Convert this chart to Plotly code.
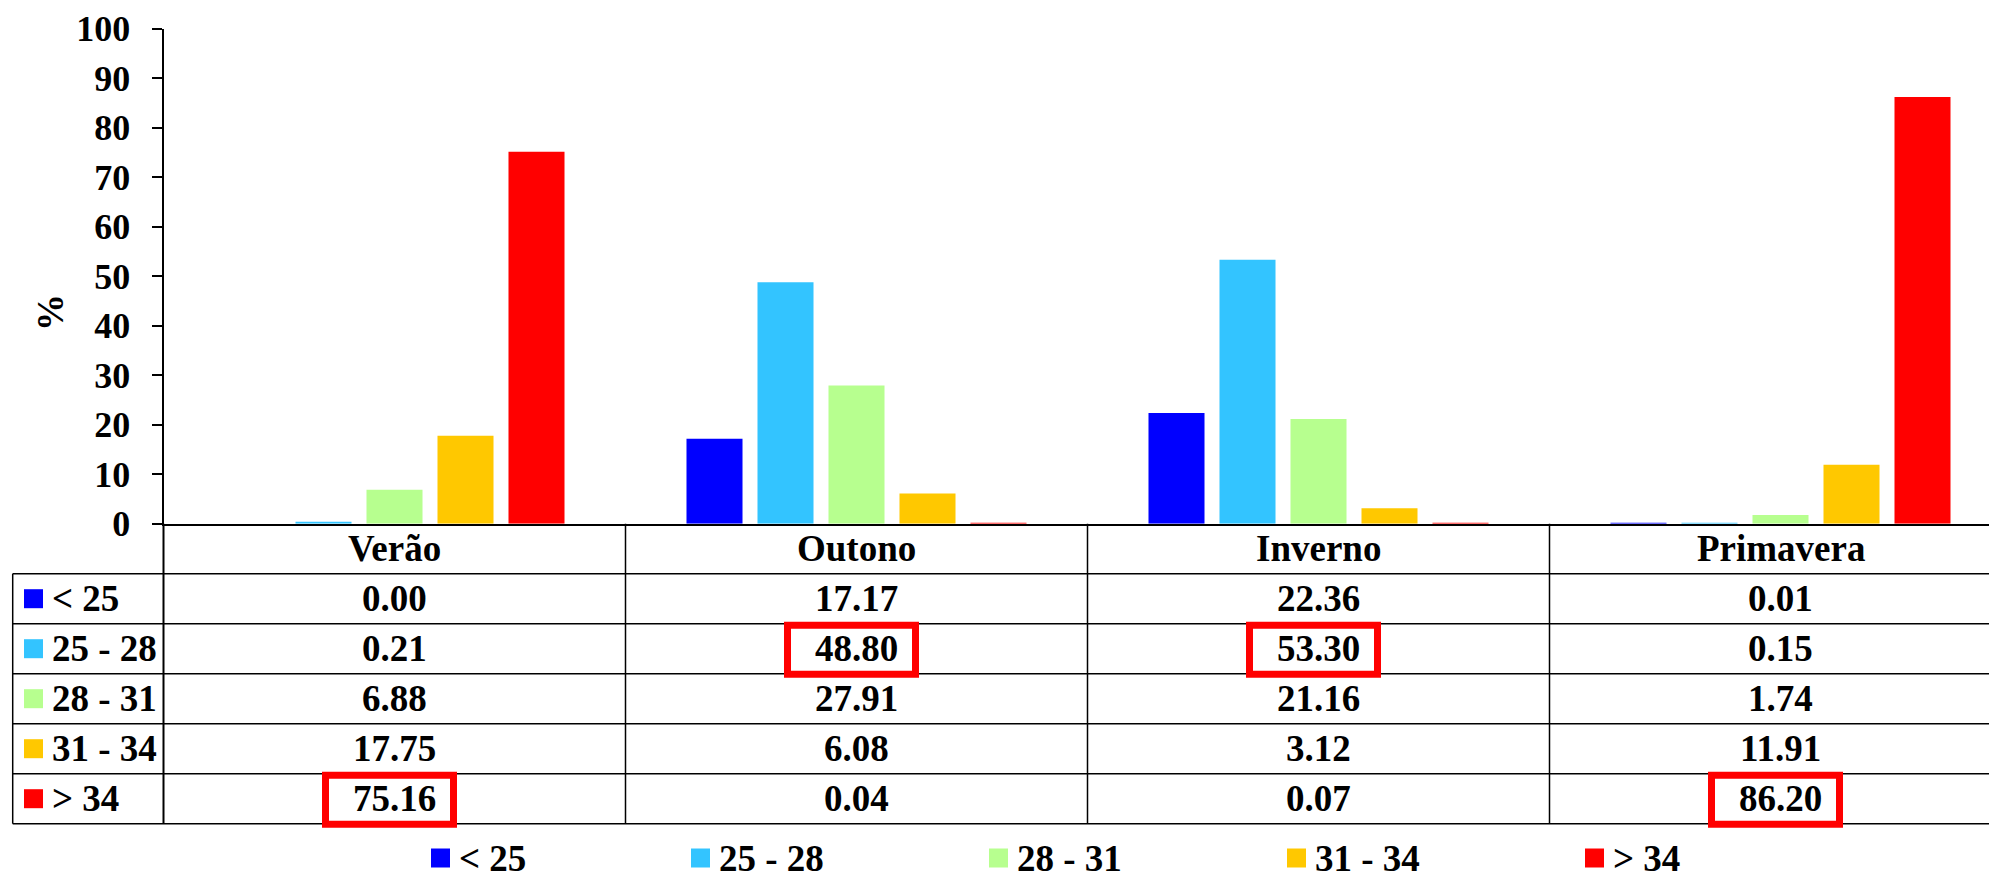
import plotly.graph_objects as go

# Seasonal share (%) of each temperature class
categories = ["Verão", "Outono", "Inverno", "Primavera"]
classes = ["< 25", "25 - 28", "28 - 31", "31 - 34", "> 34"]
lt_25 = [0.00, 17.17, 22.36, 0.01]
c25_28 = [0.21, 48.80, 53.30, 0.15]
c28_31 = [6.88, 27.91, 21.16, 1.74]
c31_34 = [17.75, 6.08, 3.12, 11.91]
gt_34 = [75.16, 0.04, 0.07, 86.20]
series = [lt_25, c25_28, c28_31, c31_34, gt_34]
y_ticks = [0, 10, 20, 30, 40, 50, 60, 70, 80, 90, 100]
colors = ["#0000FF", "#33C4FF", "#B7FF8F", "#FFC800", "#FF0000"]

W, H = 1989, 883
FONT = "Liberation Serif"
FS = 37

# page geometry (px)
plot_left, plot_top, plot_bottom = 163.5, 28.7, 523.7
cat_w = 462.0
row_h = 50.0
table_left = 12.7
table_bottom = plot_bottom + row_h * (len(classes) + 1)


def fx(x):
    return x / W


def fy(y):
    return 1 - y / H


fig = go.Figure()
for name, vals, col in zip(classes, series, colors):
    fig.add_trace(go.Bar(x=categories, y=vals, name=name, marker_color=col,
                         marker_line_width=0, showlegend=False))

x_max = (W - plot_left) / cat_w - 0.5

shapes = []
annotations = []
line = dict(color="black", width=1.5)

# table grid
for r in range(1, len(classes) + 2):
    y = plot_bottom + r * row_h
    shapes.append(dict(type="line", xref="paper", yref="paper",
                       x0=fx(table_left), x1=1, y0=fy(y), y1=fy(y), line=line))
shapes.append(dict(type="line", xref="paper", yref="paper",
                   x0=fx(table_left), x1=fx(table_left),
                   y0=fy(plot_bottom + row_h), y1=fy(table_bottom), line=line))
shapes.append(dict(type="line", xref="paper", yref="paper",
                   x0=fx(plot_left), x1=fx(plot_left),
                   y0=fy(plot_bottom), y1=fy(table_bottom), line=dict(color="black", width=2)))
for k in range(1, len(categories)):
    shapes.append(dict(type="line", xref="x", yref="paper",
                       x0=k - 0.5, x1=k - 0.5,
                       y0=fy(plot_bottom), y1=fy(table_bottom), line=line))

font = dict(family=FONT, size=FS, color="black", weight="bold")

# header row
for i, cat in enumerate(categories):
    annotations.append(dict(x=i, y=fy(plot_bottom + row_h / 2), xref="x", yref="paper",
                            text=cat, showarrow=False, font=font,
                            xanchor="center", yanchor="middle"))

# value rows with colour keys
for r, (name, vals, col) in enumerate(zip(classes, series, colors)):
    yc = plot_bottom + row_h * (r + 1.5)
    shapes.append(dict(type="rect", xref="paper", yref="paper",
                       x0=fx(24), x1=fx(43), y0=fy(yc - 9.5), y1=fy(yc + 9.5),
                       fillcolor=col, line_width=0))
    annotations.append(dict(x=fx(50), y=fy(yc), xref="paper", yref="paper",
                            text=name, showarrow=False, font=font,
                            xanchor="left", yanchor="middle"))
    for i, v in enumerate(vals):
        annotations.append(dict(x=i, y=fy(yc), xref="x", yref="paper",
                                text=f"{v:.2f}", showarrow=False, font=font,
                                xanchor="center", yanchor="middle"))

# red frame around the dominant class of each season
box_lw = 7
half_w = 67.5 / cat_w
shift = -5 / cat_w
for i in range(len(categories)):
    col_vals = [s[i] for s in series]
    r = col_vals.index(max(col_vals))
    top = plot_bottom + row_h * (r + 1) - 2
    bot = top + row_h + 6
    inset_x = box_lw / 2 / cat_w
    shapes.append(dict(type="rect", xref="x", yref="paper",
                       x0=i + shift - half_w + inset_x, x1=i + shift + half_w - inset_x,
                       y0=fy(top + box_lw / 2), y1=fy(bot - box_lw / 2),
                       line=dict(color="#FF0000", width=box_lw), fillcolor="rgba(0,0,0,0)"))

# legend below the table
legend_x = [431, 691, 989, 1287, 1585]
legend_y = 858
for name, col, lx in zip(classes, colors, legend_x):
    shapes.append(dict(type="rect", xref="paper", yref="paper",
                       x0=fx(lx), x1=fx(lx + 19), y0=fy(legend_y - 9.5), y1=fy(legend_y + 9.5),
                       fillcolor=col, line_width=0))
    annotations.append(dict(x=fx(lx + 27), y=fy(legend_y), xref="paper", yref="paper",
                            text=name, showarrow=False, font=font, borderpad=0,
                            xanchor="left", yanchor="middle"))

# y-axis title
annotations.append(dict(x=fx(50), y=fy(313), xref="paper", yref="paper",
                        text="%", textangle=-90, showarrow=False, font=font,
                        xanchor="center", yanchor="middle"))

fig.update_layout(
    template="none",
    width=W, height=H,
    margin=dict(l=0, r=0, t=0, b=0, autoexpand=False),
    paper_bgcolor="white", plot_bgcolor="white",
    font=dict(family=FONT),
    barmode="group", bargap=0.2316, bargroupgap=0.211,
    xaxis=dict(domain=[fx(plot_left), 1], range=[-0.5, x_max], automargin=False,
               categoryorder="array", categoryarray=categories,
               showticklabels=False, ticks="", showgrid=False, zeroline=False,
               showline=True, linecolor="black", linewidth=2),
    yaxis=dict(domain=[fy(plot_bottom), fy(plot_top)], range=[0, 100], automargin=False,
               tickvals=y_ticks, ticks="outside", ticklen=10, tickwidth=2,
               tickcolor="black", showline=True, linecolor="black", linewidth=2,
               showgrid=False, zeroline=False,
               tickfont=dict(family=FONT, size=36, color="black", weight="bold"),
               ticklabelstandoff=14),
    shapes=shapes,
    annotations=annotations,
    showlegend=False,
)

fig.write_html("out.html")
